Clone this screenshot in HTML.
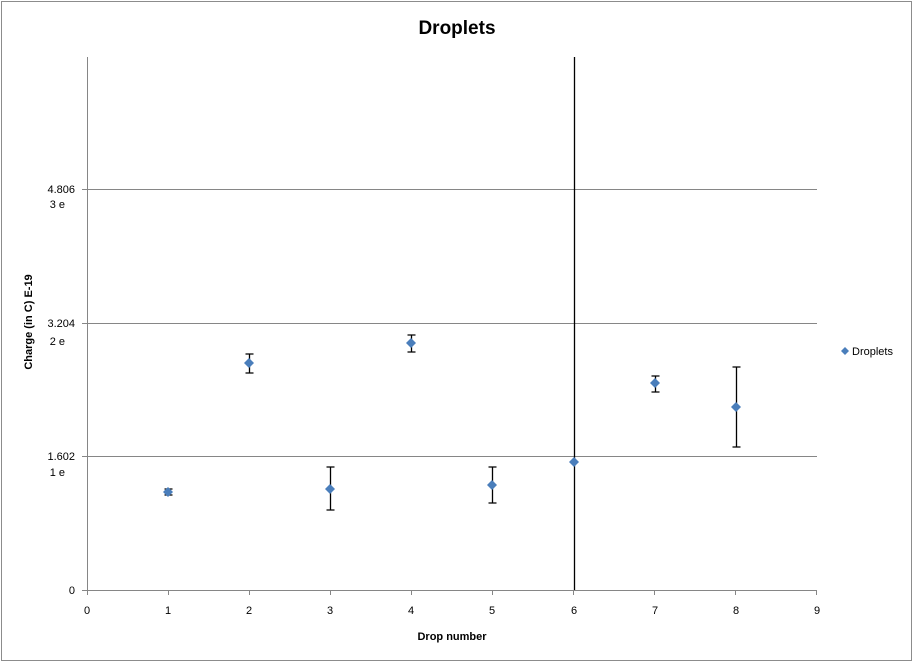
<!DOCTYPE html>
<html><head><meta charset="utf-8"><style>
html,body{margin:0;padding:0;background:#fff;}
svg{display:block;font-family:"Liberation Sans",sans-serif;}
</style></head><body>
<svg width="914" height="663" viewBox="0 0 914 663" xmlns="http://www.w3.org/2000/svg">
<rect x="1.5" y="1.5" width="910" height="659" fill="#fff" stroke="#8c8c8c" stroke-width="1"/>
<text x="457" y="34" text-anchor="middle" font-size="19" font-weight="bold">Droplets</text>
<g stroke="#868686" stroke-width="1">
<line x1="87" y1="189.5" x2="817" y2="189.5"/>
<line x1="87" y1="323.5" x2="817" y2="323.5"/>
<line x1="87" y1="456.5" x2="817" y2="456.5"/>
<line x1="87.5" y1="57" x2="87.5" y2="590"/>
<line x1="87" y1="590.5" x2="817" y2="590.5"/>
<line x1="82" y1="189.5" x2="87" y2="189.5"/>
<line x1="82" y1="323.5" x2="87" y2="323.5"/>
<line x1="82" y1="456.5" x2="87" y2="456.5"/>
<line x1="82" y1="590.5" x2="87" y2="590.5"/>
<line x1="87.5" y1="590" x2="87.5" y2="595"/>
<line x1="168.5" y1="590" x2="168.5" y2="595"/>
<line x1="249.5" y1="590" x2="249.5" y2="595"/>
<line x1="330.5" y1="590" x2="330.5" y2="595"/>
<line x1="411.5" y1="590" x2="411.5" y2="595"/>
<line x1="492.5" y1="590" x2="492.5" y2="595"/>
<line x1="573.5" y1="590" x2="573.5" y2="595"/>
<line x1="654.5" y1="590" x2="654.5" y2="595"/>
<line x1="735.5" y1="590" x2="735.5" y2="595"/>
<line x1="816.5" y1="590" x2="816.5" y2="595"/>
</g>
<g font-size="11" fill="#000" text-anchor="end">
<text x="75" y="193">4.806</text>
<text x="65" y="208">3 e</text>
<text x="75" y="327">3.204</text>
<text x="65" y="345">2 e</text>
<text x="75" y="460">1.602</text>
<text x="65" y="476">1 e</text>
<text x="75" y="594">0</text>
</g>
<g font-size="11" fill="#000" text-anchor="middle">
<text x="87" y="614">0</text><text x="168" y="614">1</text><text x="249" y="614">2</text>
<text x="330" y="614">3</text><text x="411" y="614">4</text><text x="492" y="614">5</text>
<text x="574" y="614">6</text><text x="655" y="614">7</text><text x="736" y="614">8</text>
<text x="817" y="614">9</text>
</g>
<text x="452" y="640" text-anchor="middle" font-size="11" font-weight="bold">Drop number</text>
<text transform="translate(32,322) rotate(-90)" text-anchor="middle" font-size="11" font-weight="bold">Charge (in C) E-19</text>
<g stroke="#000" stroke-width="1.3" fill="none">
<path d="M168.5 489v6M164.5 489h8M164.5 495h8"/>
<path d="M249.5 354v19M245.5 354h8M245.5 373h8"/>
<path d="M330.5 467v43M326.5 467h8M326.5 510h8"/>
<path d="M411.5 335v17M407.5 335h8M407.5 352h8"/>
<path d="M492.5 467v36M488.5 467h8M488.5 503h8"/>
<path d="M574.5 57v533"/>
<path d="M655.5 376v16M651.5 376h8M651.5 392h8"/>
<path d="M736.5 367v80M732.5 367h8M732.5 447h8"/>
</g>
<g fill="#4a7ebb">
<path d="M168 487l5 5-5 5-5-5z"/>
<path d="M249 358l5 5-5 5-5-5z"/>
<path d="M330 484l5 5-5 5-5-5z"/>
<path d="M411 338l5 5-5 5-5-5z"/>
<path d="M492 480l5 5-5 5-5-5z"/>
<path d="M574 457l5 5-5 5-5-5z"/>
<path d="M655 378l5 5-5 5-5-5z"/>
<path d="M736 402l5 5-5 5-5-5z"/>
<path d="M845 347l4 4-4 4-4-4z"/>
</g>
<text x="852" y="355" font-size="11">Droplets</text>
</svg>
</body></html>
